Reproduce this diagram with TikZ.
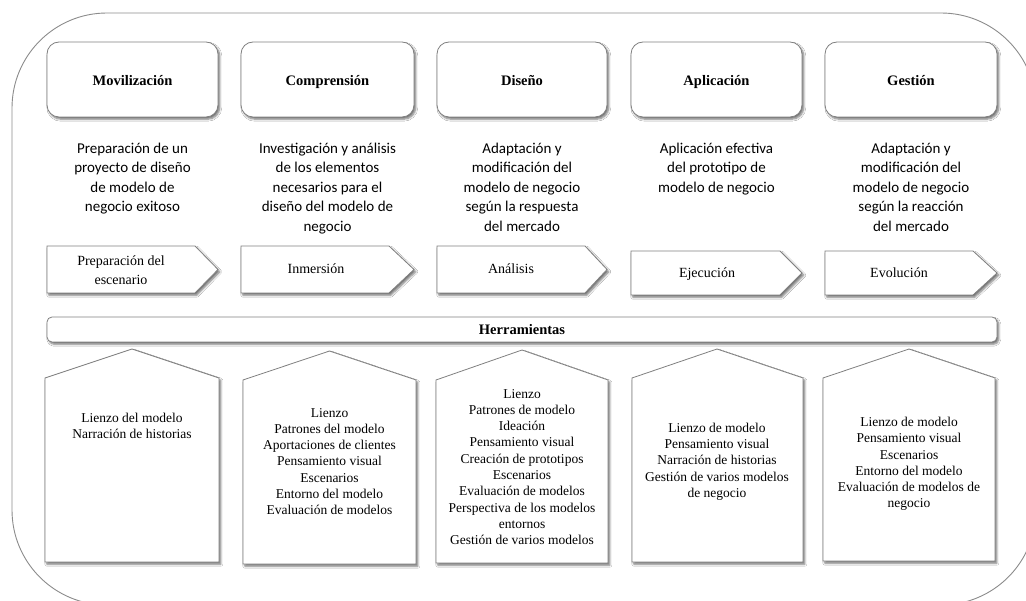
\documentclass[tikz,border=0pt]{standalone}
\usepackage{fontspec}
\setmainfont{Liberation Serif}
\newfontfamily\carlito{Carlito}
\usetikzlibrary{shadows.blur}
\begin{document}
\begin{tikzpicture}[x=1pt,y=-1pt,
  shd/.style={blur shadow={shadow xshift=1.8pt,shadow yshift=-2.2pt,shadow blur steps=6,shadow blur radius=2pt,shadow opacity=55}},
  frame/.style={draw=black!50,line width=0.8pt,fill=white,shd},
  hdr/.style={font=\bfseries\fontsize{14.5}{17}\selectfont,inner sep=0pt,anchor=base},
  desc/.style={font=\carlito\fontsize{15}{19.5}\selectfont,align=center,anchor=north,inner sep=0pt},
  arrtxt/.style={font=\fontsize{14}{19}\selectfont,align=center,inner sep=0pt},
  tools/.style={font=\fontsize{13.5}{16.3}\selectfont,align=center,inner sep=0pt}]
\clip (0,0) rectangle (1026,601);
\fill[white] (0,0) rectangle (1026,601);
% outer frame
\draw[draw=black!45,line width=0.9pt,rounded corners=95pt] (12,13) rectangle (1036,605);
% top boxes
\foreach \l/\r in {47/218,241/414,437/607,631/802,825/997}{
  \draw[frame,rounded corners=12pt] (\l,42) rectangle (\r,117);
}
\node[hdr] (h1) at (132.5,86) {Movilización};
\node[hdr] (h2) at (327.5,86) {Comprensión};
\node[hdr] (h3) at (522,86) {Diseño};
\node[hdr] (h4) at (716.5,86) {Aplicación};
\node[hdr] (h5) at (911,86) {Gestión};
% descriptions
\node[desc] (d1) at (132.5,142.5) {Preparación de un\\proyecto de diseño\\de modelo de\\negocio exitoso};
\node[desc] (d2) at (327.5,142.5) {Investigación y análisis\\de los elementos\\necesarios para el\\diseño del modelo de\\negocio};
\node[desc] (d3) at (522,142.5) {Adaptación y\\modificación del\\modelo de negocio\\según la respuesta\\del mercado};
\node[desc] (d4) at (716.5,142.5) {Aplicación efectiva\\del prototipo de\\modelo de negocio};
\node[desc] (d5) at (911,142.5) {Adaptación y\\modificación del\\modelo de negocio\\según la reacción\\del mercado};
% arrows
\foreach \l/\b/\r/\t/\bt in {47/195/218/246/293,241/389/414/246/293,437/585/607/246/293,631/780/802/251/295,825/973/997/251/295}{
  \draw[frame] (\l,\t) -- (\b,\t) -- (\r,{(\t+\bt)/2}) -- (\b,\bt) -- (\l,\bt) -- cycle;
}
\node[arrtxt] (a1) at (121,270) {Preparación del\\escenario};
\node[arrtxt,anchor=base] (a2) at (316,274) {Inmersión};
\node[arrtxt,anchor=base] (a3) at (511,274) {Análisis};
\node[arrtxt,anchor=base] (a4) at (707,278) {Ejecución};
\node[arrtxt,anchor=base] (a5) at (899,278) {Evolución};
% tools bar
\draw[frame,rounded corners=5pt] (47,317) rectangle (997,342);
\node[hdr] (tb) at (522,334.5) {Herramientas};
% houses
\foreach \l/\r/\ax/\ay/\s/\bo in {45/219/132/349/378/562,243/416/329.5/351/380/564,436/608/522/350/380/563,632/803/717/349/378/562,823/995/909/349/378/561}{
  \draw[frame] (\l,\s) -- (\ax,\ay) -- (\r,\s) -- (\r,\bo) -- (\l,\bo) -- cycle;
}
\node[tools] (t1) at (132,426) {Lienzo del modelo\\Narración de historias};
\node[tools] (t2) at (329.5,461.5) {Lienzo\\Patrones del modelo\\Aportaciones de clientes\\Pensamiento visual\\Escenarios\\Entorno del modelo\\Evaluación de modelos};
\node[tools] (t3) at (522,467) {Lienzo\\Patrones de modelo\\Ideación\\Pensamiento visual\\Creación de prototipos\\Escenarios\\Evaluación de modelos\\Perspectiva de los modelos\\entornos\\Gestión de varios modelos};
\node[tools] (t4) at (717,461.5) {Lienzo de modelo\\Pensamiento visual\\Narración de historias\\Gestión de varios modelos\\de negocio};
\node[tools] (t5) at (909,464) {Lienzo de modelo\\Pensamiento visual\\Escenarios\\Entorno del modelo\\Evaluación de modelos de\\negocio};
\end{tikzpicture}
\end{document}
